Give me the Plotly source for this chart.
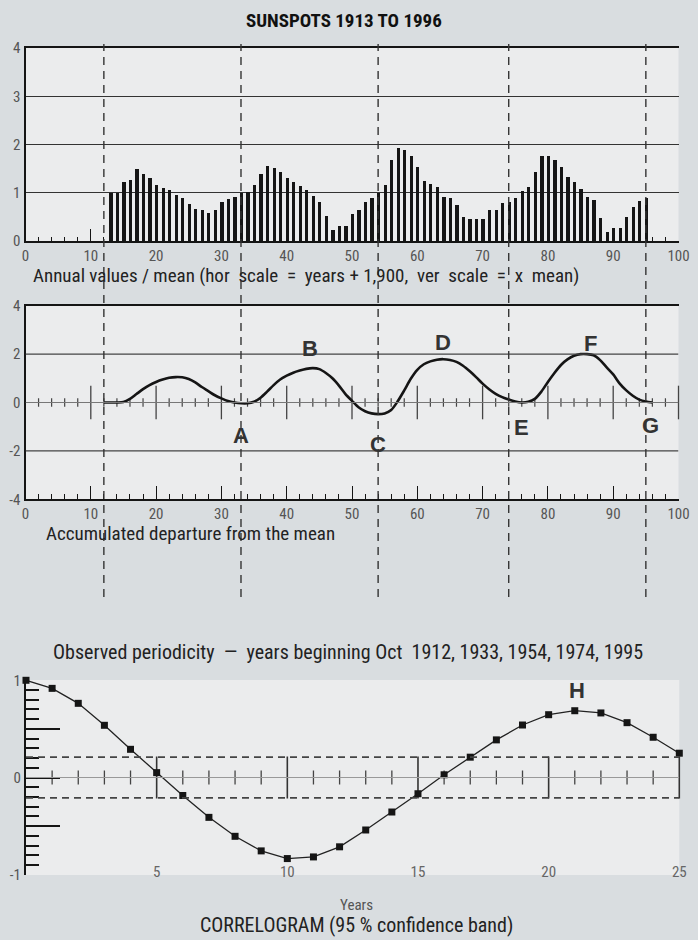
import plotly.graph_objects as go

W, H = 698, 940
BG = '#d9dde0'
PANEL = '#ebeced'
INK = '#151515'
GREY = '#555555'
NARROW = 'Liberation Sans Narrow, Arial Narrow, Roboto Condensed, DejaVu Sans Condensed, sans-serif'
BOLD = 'Liberation Sans, Arial, sans-serif'

# ---------------- data ----------------
annual_years = list(range(13, 96))
annual_values = [
    1.00, 1.00, 1.22, 1.26, 1.49, 1.38, 1.30, 1.16, 1.10, 1.05,   # 13-22
    0.95, 0.89, 0.76, 0.67, 0.64, 0.59, 0.65, 0.81, 0.875, 0.92,  # 23-32
    1.00, 1.02, 1.16, 1.38, 1.55, 1.52, 1.42, 1.31, 1.22, 1.14,   # 33-42
    1.06, 0.93, 0.81, 0.52, 0.22, 0.31, 0.31,                     # 43-49
    0.56, 0.64, 0.81, 0.90, 1.00, 1.16, 1.68, 1.92, 1.89, 1.77,   # 50-59
    1.54, 1.25, 1.18, 1.125, 0.92, 0.90, 0.74, 0.50, 0.45, 0.45,  # 60-69
    0.45, 0.64, 0.64, 0.78, 0.81, 0.90, 1.04, 1.125, 1.44, 1.76,  # 70-79
    1.76, 1.68, 1.54, 1.32, 1.22, 1.07, 0.92, 0.85, 0.47, 0.19,   # 80-89
    0.27, 0.27, 0.50, 0.71, 0.83, 0.90,                           # 90-95
]

acc_years = list(range(12, 97))
acc_values = [
    0.00, 0.00, 0.00, 0.02, 0.15, 0.35, 0.55, 0.72, 0.85, 0.95,   # 12-21
    1.02, 1.05, 1.04, 0.97, 0.83, 0.64, 0.47, 0.30, 0.17, 0.06,   # 22-31
    0.00, -0.03, -0.03, 0.03, 0.20, 0.45, 0.72, 0.95, 1.11, 1.23, # 32-41
    1.32, 1.39, 1.42, 1.38, 1.22, 1.00, 0.70, 0.35, 0.07, -0.20,  # 42-51
    -0.36, -0.45, -0.48, -0.45, -0.31, 0.05, 0.50, 0.98, 1.35, 1.58,  # 52-61
    1.70, 1.77, 1.79, 1.76, 1.68, 1.52, 1.30, 1.05, 0.78, 0.55,   # 62-71
    0.36, 0.22, 0.12, 0.04, 0.00, 0.03, 0.15, 0.45, 0.85, 1.22,   # 72-81
    1.55, 1.78, 1.93, 2.00, 2.00, 1.95, 1.75, 1.45, 1.16, 0.78,   # 82-91
    0.50, 0.28, 0.12, 0.04, 0.00,                                 # 92-96
]

cycle_starts = [12, 33, 54, 74, 95]
point_labels = ['A', 'B', 'C', 'D', 'E', 'F', 'G']
point_label_x = [33, 43.6, 54, 64, 76, 86.5, 95.7]
point_label_y = [-1.35, 2.25, -1.75, 2.5, -1.05, 2.45, -0.95]

corr_lags = list(range(0, 26))
corr_values = [
    1.00, 0.917, 0.763, 0.537, 0.29, 0.05, -0.185, -0.41, -0.605, -0.755,
    -0.834, -0.817, -0.713, -0.54, -0.355, -0.167, 0.028, 0.209, 0.387, 0.54,
    0.646, 0.687, 0.664, 0.564, 0.414, 0.25,
]
conf_band = 0.21
peak_label = 'H'
peak_lag = 21.1
peak_label_y = 0.9


def px(x):
    return x / W


def py(y):
    return 1 - y / H


XDOM = [px(25.5), px(678.5)]
tickfont = dict(family=NARROW, size=15, color=GREY)

fig = go.Figure()

# top panel bars
fig.add_trace(go.Bar(x=annual_years, y=annual_values, width=0.5,
                     marker=dict(color=INK, line=dict(width=0)),
                     xaxis='x', yaxis='y', hoverinfo='skip'))

# middle panel zero-line ticks
minor_x = [v for v in range(0, 101, 2) if v % 10]
major_x = list(range(10, 101, 10))
fig.add_trace(go.Scatter(x=minor_x, y=[0] * len(minor_x), mode='markers',
                         marker=dict(symbol='line-ns', size=6, line=dict(color='#444', width=1.2)),
                         xaxis='x2', yaxis='y2', hoverinfo='skip'))
fig.add_trace(go.Scatter(x=major_x, y=[0] * len(major_x), mode='markers',
                         marker=dict(symbol='line-ns', size=24, line=dict(color='#444', width=1.3)),
                         xaxis='x2', yaxis='y2', hoverinfo='skip', cliponaxis=False))
# accumulated departure curve
fig.add_trace(go.Scatter(x=acc_years, y=acc_values, mode='lines',
                         line=dict(color=INK, width=2.6, shape='spline', smoothing=0.8),
                         xaxis='x2', yaxis='y2', hoverinfo='skip'))

# correlogram zero-line ticks
c_minor = [v for v in range(1, 26) if v % 5]
c_major = [5, 10, 15, 20, 25]
fig.add_trace(go.Scatter(x=c_minor, y=[0] * len(c_minor), mode='markers',
                         marker=dict(symbol='line-ns', size=10, line=dict(color='#444', width=1.3)),
                         xaxis='x4', yaxis='y4', hoverinfo='skip'))
fig.add_trace(go.Scatter(x=c_major, y=[0] * len(c_major), mode='markers',
                         marker=dict(symbol='line-ns', size=30, line=dict(color='#333', width=1.6)),
                         xaxis='x4', yaxis='y4', hoverinfo='skip', cliponaxis=False))
# correlogram
fig.add_trace(go.Scatter(x=corr_lags, y=corr_values, mode='lines+markers',
                         line=dict(color='#222', width=1.3),
                         marker=dict(symbol='square', size=7, color=INK),
                         xaxis='x4', yaxis='y4', hoverinfo='skip', cliponaxis=False))

shapes = []
# panel backgrounds
for xr, yr in [('x domain', 'y domain'), ('x2 domain', 'y2 domain'), ('x4 domain', 'y4 domain')]:
    shapes.append(dict(type='rect', xref=xr, yref=yr, x0=0, x1=1, y0=0, y1=1,
                       fillcolor=PANEL, line=dict(width=0), layer='below'))
# middle panel grid lines
for gy in [2, -2]:
    shapes.append(dict(type='line', xref='x2', yref='y2', x0=0, x1=100, y0=gy, y1=gy,
                       line=dict(color='#444', width=1.2)))
shapes.append(dict(type='line', xref='x2', yref='y2', x0=0, x1=100, y0=0, y1=0,
                   line=dict(color='#777', width=1)))
# cycle start dashed lines
for v in cycle_starts:
    shapes.append(dict(type='line', xref='x', yref='paper', x0=v, x1=v,
                       y0=py(597), y1=py(44),
                       line=dict(color='#333', width=1.4, dash='8px,6px')))
# correlogram band and zero line
shapes.append(dict(type='line', xref='x4', yref='y4', x0=0, x1=25, y0=0, y1=0,
                   line=dict(color='#999', width=1)))
for b in [conf_band, -conf_band]:
    shapes.append(dict(type='line', xref='x4', yref='y4', x0=0, x1=25, y0=b, y1=b,
                       line=dict(color='#444', width=1.6, dash='7px,5px')))

annotations = []


def note(text, x, y, size=18, xanchor='center', family=NARROW, color='#222', bold=False):
    annotations.append(dict(text=('<b>%s</b>' % text) if bold else text,
                            x=px(x), y=py(y), xref='paper', yref='paper',
                            xanchor=xanchor, yanchor='middle', showarrow=False,
                            font=dict(family=family, size=size, color=color)))


note('SUNSPOTS 1913 TO 1996', 344, 20, size=19, bold=True, color='#111')
note('Annual values / mean (hor  scale  =  years + 1,900,  ver  scale  =  x  mean)', 31, 275, size=19, xanchor='left')
note('Accumulated departure from the mean', 44, 533, size=19, xanchor='left')
note('Observed periodicity  \u2014  years beginning Oct  1912, 1933, 1954, 1974, 1995', 348, 652, size=20)
note('Years', 356, 905, size=15, color='#555')
note('CORRELOGRAM (95 % confidence band)', 356, 925, size=20)

for t, lx, ly in zip(point_labels, point_label_x, point_label_y):
    annotations.append(dict(text='<b>%s</b>' % t, x=lx, y=ly, xref='x2', yref='y2',
                            showarrow=False, font=dict(family=BOLD, size=22, color='#333')))
annotations.append(dict(text='<b>%s</b>' % peak_label, x=peak_lag, y=peak_label_y, xref='x4', yref='y4',
                        showarrow=False, font=dict(family=BOLD, size=22, color='#333')))

xcommon = dict(range=[0, 100], domain=XDOM, showgrid=False, zeroline=False,
               showline=True, linecolor=INK, linewidth=2,
               ticks='inside', tick0=0, dtick=10, ticklen=12, tickwidth=1.4, tickcolor=INK,
               minor=dict(ticks='inside', tick0=0, dtick=2, ticklen=4, tickwidth=1.1, tickcolor=INK),
               tickfont=tickfont, fixedrange=True)

fig.update_layout(
    width=W, height=H, margin=dict(l=0, r=0, t=0, b=0, autoexpand=False),
    paper_bgcolor=BG, plot_bgcolor='rgba(0,0,0,0)',
    showlegend=False, bargap=0,
    xaxis=dict(xcommon, anchor='y', mirror=True),
    yaxis=dict(range=[0, 4], domain=[py(241), py(48)], anchor='x',
               tickvals=[0, 1, 2, 3, 4], showgrid=True, gridcolor='#333', gridwidth=1.3,
               zeroline=False, showline=True, linecolor=INK, linewidth=2, ticks='',
               tickfont=tickfont, fixedrange=True),
    xaxis2=dict(xcommon, anchor='y2', mirror=True, ticklen=13, minor=dict(ticks='inside', tick0=0, dtick=2, ticklen=5, tickwidth=1.1, tickcolor=INK)),
    yaxis2=dict(range=[-4, 4], domain=[py(499.3), py(305.7)], anchor='x2',
                tickvals=[-4, -2, 0, 2, 4], ticktext=['-4', '-2', '0', '2', '4'],
                showgrid=False, zeroline=False, showline=True, linecolor=INK, linewidth=2,
                ticks='', tickfont=tickfont, fixedrange=True),
    xaxis3=dict(xcommon, anchor='y3', ticklen=15, minor=dict(ticks='inside', tick0=0, dtick=2, ticklen=8, tickwidth=1.1, tickcolor=INK)),
    yaxis3=dict(range=[0, 1], domain=[py(596), py(593)], anchor='x3', visible=False, fixedrange=True),
    xaxis4=dict(range=[0, 25], domain=[px(26), px(679.3)], anchor='free', position=py(883),
                tickvals=[5, 10, 15, 20, 25], ticks='', showline=False, showgrid=False,
                zeroline=False, ticklabelposition='inside', ticklabeloverflow='allow',
                tickfont=dict(family=NARROW, size=15, color='#666'), fixedrange=True),
    yaxis4=dict(range=[-1.003, 1.003], domain=[py(875), py(680)], anchor='x4',
                tickvals=[-1, -0.5, 0, 0.5, 1], ticktext=['-1', '', '0', '', '1'],
                ticks='inside', ticklen=34, tickwidth=2, tickcolor=INK,
                minor=dict(ticks='inside', tick0=0, dtick=0.1, ticklen=13, tickwidth=1.6, tickcolor=INK),
                showline=True, linecolor=INK, linewidth=2, showgrid=False, zeroline=False,
                tickfont=tickfont, fixedrange=True),
    shapes=shapes, annotations=annotations,
)

fig.write_html('out.html',
               config={'displayModeBar': False, 'responsive': False},
               post_script="document.documentElement.style.margin='0';"
                           "document.body.style.margin='0';document.body.style.padding='0';"
                           "document.body.style.overflow='hidden';"
                           "document.body.style.background='" + BG + "';"
                           "var g=document.getElementById('{plot_id}');"
                           "g.style.position='fixed';g.style.left='0px';g.style.top='0px';")
